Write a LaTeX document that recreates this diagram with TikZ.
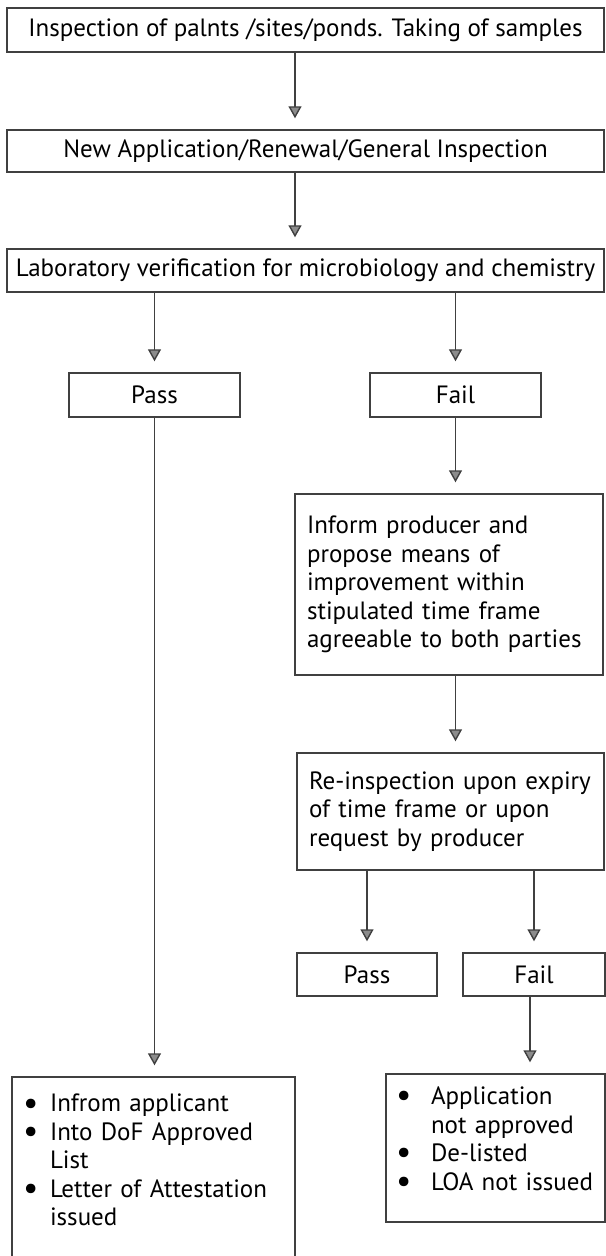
\documentclass[tikz,border=0pt]{standalone}
\usepackage{fontspec}
\setmainfont{PT Sans}
\usetikzlibrary{arrows.meta}
\newcommand{\bul}{\smash{\raisebox{-1.2pt}{\fontsize{17}{17}\selectfont\textbullet}}}
\newcommand{\bitem}[1][13.5pt]{\par\noindent\hangindent=#1\hangafter=1\makebox[#1][l]{\bul}}
\begin{document}
\begin{tikzpicture}
    [x=0.5pt, y=-0.5pt,
    every node/.style={font=\fontsize{12.5}{14.25}\selectfont},
    box/.style={draw=black!75, line width=0.7pt, inner sep=0pt},
    tbox/.style={box, align=left, inner xsep=6pt},
    arr/.style={draw=black!75, line width=0.7pt, shorten >=5.5pt,
      -{Triangle[width=6.5pt, length=6pt, fill=black!45]}}]
    \useasboundingbox (0,0) rectangle (605,1256);
    % top of the chart
    \node[box, minimum width=298.5pt, minimum height=22pt] (insp) at (305.5,30)
      {Inspection of palnts /sites/ponds. Taking of samples};
    \node[box, minimum width=298.5pt, minimum height=21pt] (appl) at (305.5,151)
      {New Application/Renewal/General Inspection};
    \node[box, minimum width=298.5pt, minimum height=21.5pt] (lab) at (305.5,270.5)
      {Laboratory verification for microbiology and chemistry};
    \node[box, minimum width=85.5pt, minimum height=22pt] (pass) at (154.5,395) {Pass};
    \node[box, minimum width=85.5pt, minimum height=22pt] (fail) at (455.5,395) {Fail};
    % fail branch
    \node[tbox, text width=142pt, minimum height=90.5pt] (inform) at (449,584.5)
      {Inform producer and\\ propose means of\\ improvement within\\
       stipulated time frame\\ agreeable to both parties};
    \node[tbox, text width=141.5pt, minimum height=58.5pt] (reinsp) at (450.5,811.5)
      {Re-inspection upon expiry\\ of time frame or upon\\ request by producer};
    \node[box, minimum width=70pt, minimum height=21.5pt] (pass2) at (367,974.5) {Pass};
    \node[box, minimum width=71pt, minimum height=21.5pt] (fail2) at (534,974.5) {Fail};
    \node[tbox, inner xsep=5pt, text width=99.5pt, minimum height=74pt] (notok) at (495.5,1148)
      {\bitem[17.5pt]Application\newline not approved
       \bitem[17.5pt]De-listed
       \bitem[17.5pt]LOA not issued\rule[-15pt]{0pt}{15pt}\par};
    % pass branch
    \node[tbox, inner xsep=5.5pt, text width=130.5pt, minimum height=92.5pt] (ok) at (153.5,1169.5)
      {\bitem Infrom applicant
       \bitem Into DoF Approved\newline List
       \bitem Letter of Attestation\newline issued\rule[-15pt]{0pt}{15pt}\par};
    \draw[arr] ([xshift=-5.25pt]insp.south) -- ([xshift=-5.25pt]appl.north);
    \draw[arr] ([xshift=-5.25pt]appl.south) -- ([xshift=-5.25pt]lab.north);
    \draw[arr] (lab.south -| pass.north) -- (pass.north);
    \draw[arr] (lab.south -| fail.north) -- (fail.north);
    \draw[arr] (fail.south) -- (fail.south |- inform.north);
    \draw[arr] (inform.south -| fail.south) -- (reinsp.north -| fail.south);
    \draw[arr] (reinsp.south -| pass2.north) -- (pass2.north);
    \draw[arr] (reinsp.south -| fail2.north) -- (fail2.north);
    \draw[arr] ([xshift=-2pt]fail2.south) -- ([xshift=-2pt]fail2.south |- notok.north);
    \draw[arr] (pass.south) -- (pass.south |- ok.north);
\end{tikzpicture}
\end{document}
